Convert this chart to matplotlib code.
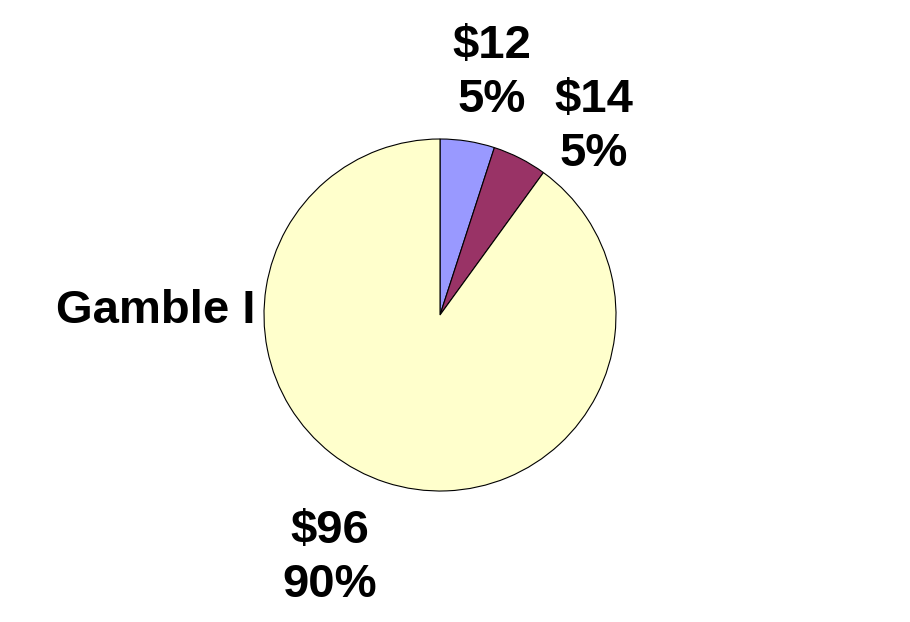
import matplotlib
matplotlib.use("Agg")
import matplotlib.pyplot as plt

labels = ["$12", "$14", "$96"]
shares = [5, 5, 90]
colors = ["#9999FF", "#993366", "#FFFFCC"]
title = "Gamble I"

W, H = 910, 622
fig = plt.figure(figsize=(W / 100, H / 100), dpi=100)
ax = fig.add_axes([0, 0, 1, 1])

cx, cy, r = 440, H - 315, 176
ax.pie(shares, colors=colors, startangle=90, counterclock=False,
       center=(cx, cy), radius=r, frame=True,
       wedgeprops=dict(edgecolor="black", linewidth=0.8))
ax.set_xlim(0, W)
ax.set_ylim(0, H)
ax.set_aspect("equal")
ax.axis("off")

font = dict(family="Liberation Sans", weight="bold", size=34, color="black")
label_pos = [(492, 73), (594, 127), (330, 558)]
for lab, sh, (x, y) in zip(labels, shares, label_pos):
    ax.text(x, H - y, f"{lab}\n{sh}%", ha="center", va="center",
            linespacing=1.3, **font)

ax.text(156, H - 311, title, ha="center", va="center", **font)

fig.savefig("out.png", dpi=100)
